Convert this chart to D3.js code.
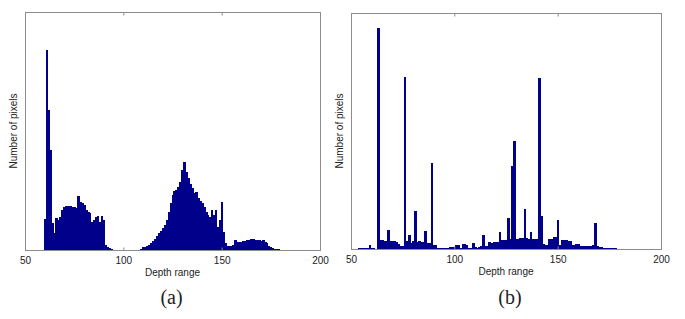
<!DOCTYPE html>
<html>
<head>
<meta charset="utf-8">
<script src="https://cdn.jsdelivr.net/npm/d3@7"></script>
<style>
  body { margin: 0; background: #fff; }
  svg { display: block; }
</style>
</head>
<body>
<script>
// ----------------------------------------
//  Data (bin centre 50..199, counts)
// ----------------------------------------

var binStart = 50, binEnd = 199;
var xTicks = [50, 100, 150, 200];

// panel (a)
var countsA = [
  0, 0, 0, 0, 0, 0.5, 0.5, 0.5, 0.5, 0.5,            // 50-59
  31, 200, 140, 100, 27, 17, 32, 30, 33, 40,          // 60-69
  43, 44, 44, 44, 43, 43, 42, 54, 48, 47,             // 70-79
  45, 40, 38, 37, 28, 30, 33, 34, 28, 34,             // 80-89
  30, 5, 3, 2, 1.5, 0.5, 0, 0, 0.5, 0.5,              // 90-99
  0.5, 0, 0, 0, 0, 0, 0, 0.3, 0.5, 1,                 // 100-109
  3, 3, 4, 5, 7, 9, 11, 14, 17, 19,                   // 110-119
  22, 25, 30, 38, 47, 55, 59, 60, 63, 68,             // 120-129
  80, 88, 78, 72, 66, 62, 57, 58, 52, 49,             // 130-139
  47, 43, 38, 35, 33, 40, 35, 40, 23, 30,             // 140-149
  48, 18, 7, 4, 4, 4, 5, 10, 8, 8,                    // 150-159
  8, 9, 9, 10, 10, 11, 11, 10, 10, 10,                // 160-169
  9, 10, 8, 7, 4, 3, 2, 1, 1, 1,                      // 170-179
  0.5, 0.5, 0.5, 0.3, 0, 0, 0, 0, 0, 0,               // 180-189
  0, 0, 0, 0, 0, 0, 0, 0, 0, 0                        // 190-199
];

// panel (b)
var countsB = [
  0, 0, 0, 0, 1, 1, 1, 1, 1, 4,                       // 50-59
  1, 1, 0.5, 221, 9, 9, 8, 8, 19, 8,                  // 60-69
  8, 8, 7, 5, 3, 3, 172, 8, 14, 6,                    // 70-79
  8, 38, 7, 8, 7, 7, 18, 6, 6, 86,                    // 80-89
  4, 4, 1.5, 1.5, 1.5, 1, 1, 1, 2, 2,                 // 90-99
  2, 4, 4, 1.5, 5, 5, 4, 1.5, 1.5, 6,                 // 100-109
  2, 1.5, 2, 3, 14, 3, 3, 7, 6, 7,                    // 110-119
  7, 7, 17, 9, 9, 9, 31, 10, 83, 108,                 // 120-129
  10, 10, 11, 11, 40, 11, 10, 17, 10, 10,             // 130-139
  10, 171, 33, 5, 4, 4, 10, 10, 12, 12,               // 140-149
  29, 4, 9, 9, 9, 8, 8, 4, 4, 5,                      // 150-159
  5, 3, 3, 3, 3, 3, 3, 4, 26, 3,                      // 160-169
  2, 2, 1.5, 1.5, 1.3, 1.3, 1, 1, 0.8, 0.5,           // 170-179
  0, 0, 0, 0, 0, 0, 0, 0, 0, 0,                       // 180-189
  0, 0, 0, 0, 0, 0, 0, 0, 0, 0                        // 190-199
];

var bins = d3.range(binStart, binEnd + 1);

var barColor = "#00008b";
var frameColor = "#8c8c8c";

var svg = d3.select("body").append("svg")
    .attr("width", 685)
    .attr("height", 319);

// ----------------------------------------
//  One histogram panel
// ----------------------------------------

function drawPanel(counts, box, yMax, caption) {
  var x = d3.scaleLinear().domain([50, 200]).range([box.left, box.right]);
  var y = d3.scaleLinear().domain([0, yMax]).range([box.bottom, box.top]);

  var g = svg.append("g");

  var data = bins.map(function(b, i) { return { bin: b, count: counts[i] }; })
    .filter(function(d) { return d.count > 0; });

  // bars, crisp so neighbours merge into one solid block
  g.selectAll(".bar")
      .data(data)
      .enter()
      .append("rect")
      .attr("class", "bar")
      .attr("x", function(d) { return x(d.bin - 0.5); })
      .attr("width", function(d) { return x(d.bin + 0.5) - x(d.bin - 0.5) + 0.6; })
      .attr("y", function(d) { return y(d.count); })
      .attr("height", function(d) { return Math.max(1, y(0) - y(d.count)); })
      .attr("fill", barColor)
      .attr("shape-rendering", "crispEdges");

  // frame
  g.append("rect")
      .attr("x", box.left + 0.5)
      .attr("y", box.top + 0.5)
      .attr("width", box.right - box.left)
      .attr("height", box.bottom - box.top)
      .attr("fill", "none")
      .attr("stroke", frameColor)
      .attr("stroke-width", 1);

  // ticks (inward, top and bottom) + labels
  var bottomAxis = d3.axisBottom(x).tickValues(xTicks).tickSize(-3).tickPadding(6)
      .tickFormat(d3.format("d"));
  var ax = g.append("g")
      .attr("transform", "translate(0," + (box.bottom + 0.5) + ")")
      .call(bottomAxis);
  ax.select(".domain").remove();
  ax.selectAll("line").attr("stroke", frameColor);
  ax.selectAll("text")
      .attr("font-family", "Liberation Sans, Arial, sans-serif")
      .attr("font-size", 10)
      .attr("fill", "#222");

  var topAxis = d3.axisTop(x).tickValues(xTicks).tickSize(-3).tickFormat("");
  var tx = g.append("g")
      .attr("transform", "translate(0," + (box.top + 0.5) + ")")
      .call(topAxis);
  tx.select(".domain").remove();
  tx.selectAll("line").attr("stroke", frameColor);

  // axis titles
  g.append("text")
      .attr("x", (box.left + box.right) / 2)
      .attr("y", box.bottom + 26)
      .attr("text-anchor", "middle")
      .attr("font-family", "Liberation Sans, Arial, sans-serif")
      .attr("font-size", 10)
      .attr("fill", "#222")
      .text("Depth range");

  g.append("text")
      .attr("transform", "translate(" + (box.left - 8) + "," + ((box.top + box.bottom) / 2) + ") rotate(-90)")
      .attr("text-anchor", "middle")
      .attr("font-family", "Liberation Sans, Arial, sans-serif")
      .attr("font-size", 10)
      .attr("fill", "#222")
      .text("Number of pixels");

  // caption
  g.append("text")
      .attr("x", (box.left + box.right) / 2 + (caption === "(a)" ? -1 : 4))
      .attr("y", 304)
      .attr("text-anchor", "middle")
      .attr("font-family", "Liberation Serif, Times New Roman, serif")
      .attr("font-size", 20)
      .attr("fill", "#222")
      .text(caption);
}

drawPanel(countsA, { left: 25, right: 320, top: 12, bottom: 250 }, 238, "(a)");
drawPanel(countsB, { left: 351, right: 661, top: 13, bottom: 249 }, 236, "(b)");

console.log("End of Program");
</script>
</body>
</html>
